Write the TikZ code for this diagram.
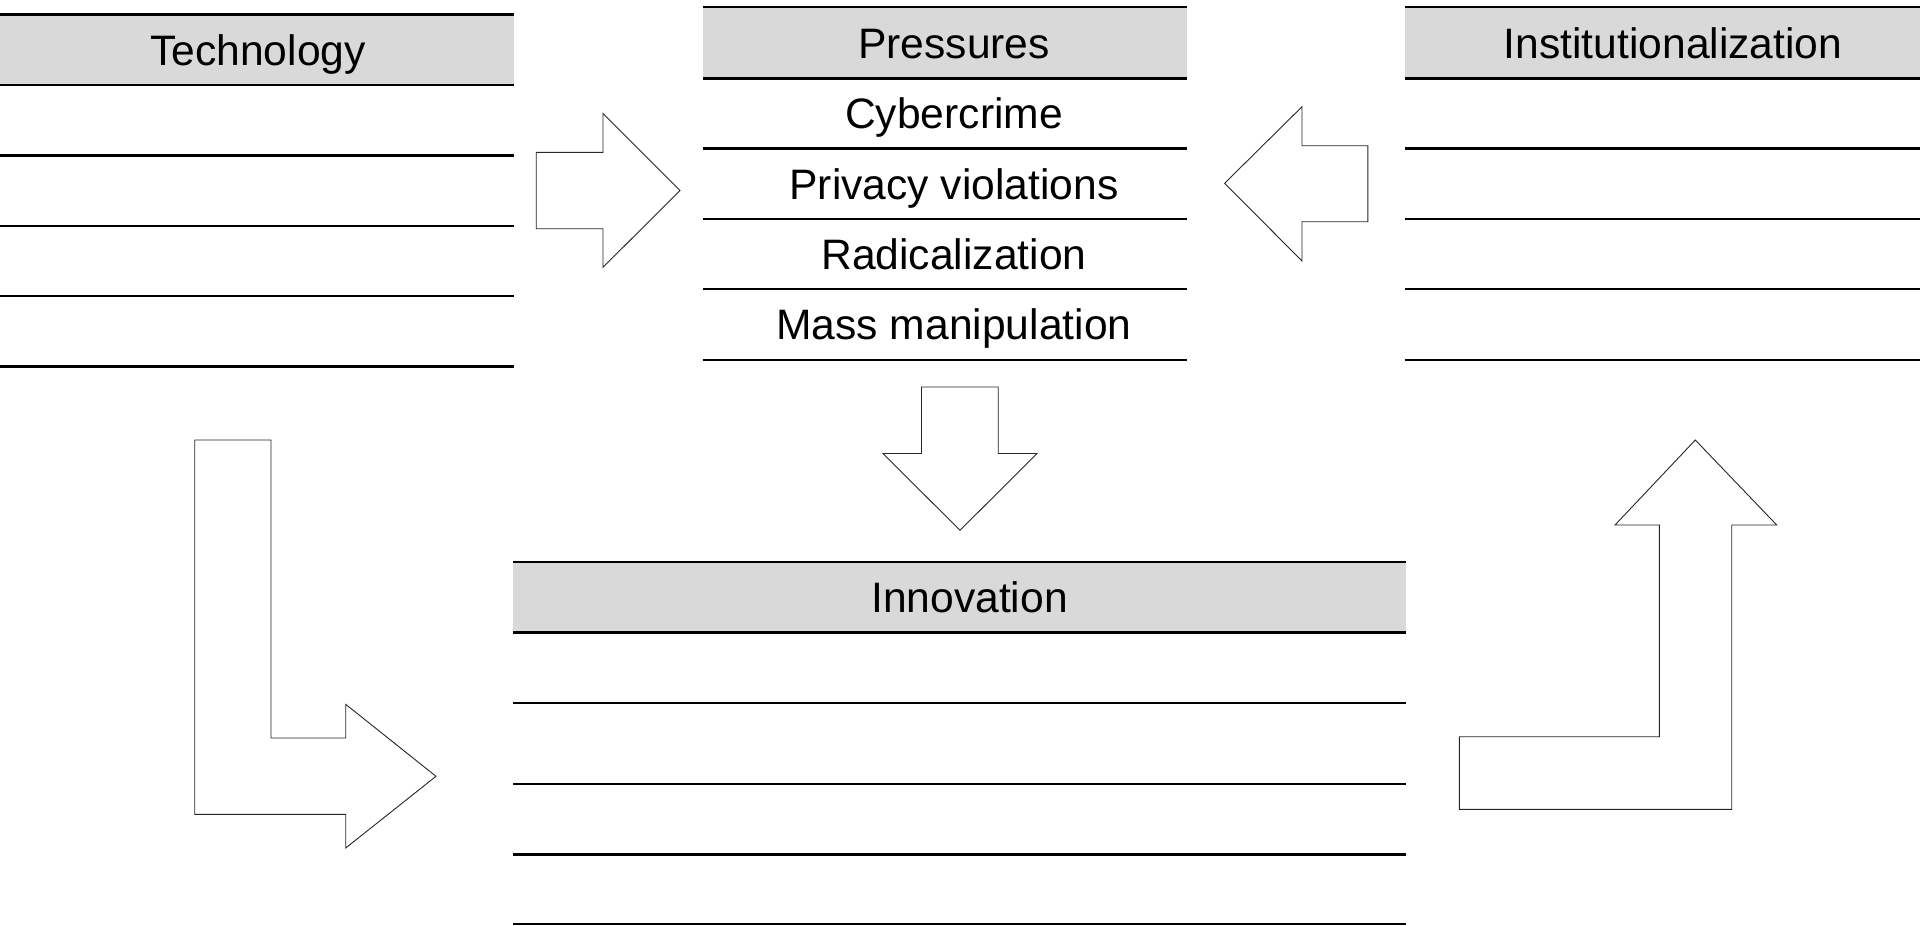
\documentclass[tikz,border=0pt]{standalone}
\usepackage{fontspec}
\setmainfont{Liberation Sans}
\definecolor{hdrgray}{RGB}{217,217,217}
\tikzset{
  rule/.style={line width=2.3pt, draw=black},
  hdrfill/.style={fill=hdrgray},
  blockarrow/.style={draw=black!85, line width=0.9pt, fill=white, line join=miter},
  lbl/.style={anchor=base, inner sep=0pt, font=\fontsize{42.6}{50}\selectfont}
}
\begin{document}
\begin{tikzpicture}[x=1pt, y=-1pt]
\useasboundingbox (0,0) rectangle (1920,926);

% ---------- Technology ----------
\fill[hdrfill] (0,14.5) rectangle (514,85);
\foreach \yy in {14.5,85,155.5,225.7,296,366.5}
  \draw[rule] (0,\yy) -- (514,\yy);
\node[lbl] (tech) at (258,65) {Technology};

% ---------- Pressures ----------
\fill[hdrfill] (702.5,7.3) rectangle (1187,78.5);
\foreach \yy in {7.3,78.5,148.5,219.3,289.3,359.7}
  \draw[rule] (702.5,\yy) -- (1187,\yy);
\node[lbl] (press) at (954,58) {Pressures};
\node[lbl] (cyber) at (954,128.5) {Cybercrime};
\node[lbl] (priv)  at (954,199) {Privacy violations};
\node[lbl] (radic) at (954,269.3) {Radicalization};
\node[lbl] (mass)  at (954,339.5) {Mass manipulation};

% ---------- Institutionalization ----------
\fill[hdrfill] (1404.5,7.3) rectangle (1920,78.5);
\foreach \yy in {7.3,78.5,148.5,219.3,289.3,359.7}
  \draw[rule] (1404.5,\yy) -- (1920,\yy);
\node[lbl] (inst) at (1673,58) {Institutionalization};

% ---------- Innovation ----------
\fill[hdrfill] (513,562) rectangle (1406,632.4);
\foreach \yy in {562,632.4,702.7,784.2,854.4,924.3}
  \draw[rule] (513,\yy) -- (1406,\yy);
\node[lbl] (innov) at (969.5,612.2) {Innovation};

% ---------- Block arrows ----------
% Technology -> Pressures
\draw[blockarrow] (536.2,152.3) -- (603,152.3) -- (603,113.5) -- (680,190.5)
  -- (603,267.3) -- (603,228.7) -- (536.2,228.7) -- cycle;
% Institutionalization -> Pressures
\draw[blockarrow] (1367.8,145.7) -- (1302,145.7) -- (1302,106.7) -- (1224.6,183.3)
  -- (1302,261) -- (1302,221.7) -- (1367.8,221.7) -- cycle;
% Pressures -> Innovation
\draw[blockarrow] (921.5,387) -- (998.2,387) -- (998.2,453.5) -- (1037,453.5)
  -- (960,530.3) -- (883,453.5) -- (921.5,453.5) -- cycle;
% Technology -> Innovation (L-shaped)
\draw[blockarrow] (194.7,440) -- (271,440) -- (271,738) -- (345.7,738) -- (345.7,704.3)
  -- (436,776.3) -- (345.7,848) -- (345.7,814.3) -- (194.7,814.3) -- cycle;
% Innovation -> Institutionalization (L-shaped)
\draw[blockarrow] (1459.3,736.7) -- (1659.3,736.7) -- (1659.3,525) -- (1615,525)
  -- (1695.3,440) -- (1776.7,525) -- (1731.7,525) -- (1731.7,809.3) -- (1459.3,809.3) -- cycle;
\end{tikzpicture}
\end{document}
